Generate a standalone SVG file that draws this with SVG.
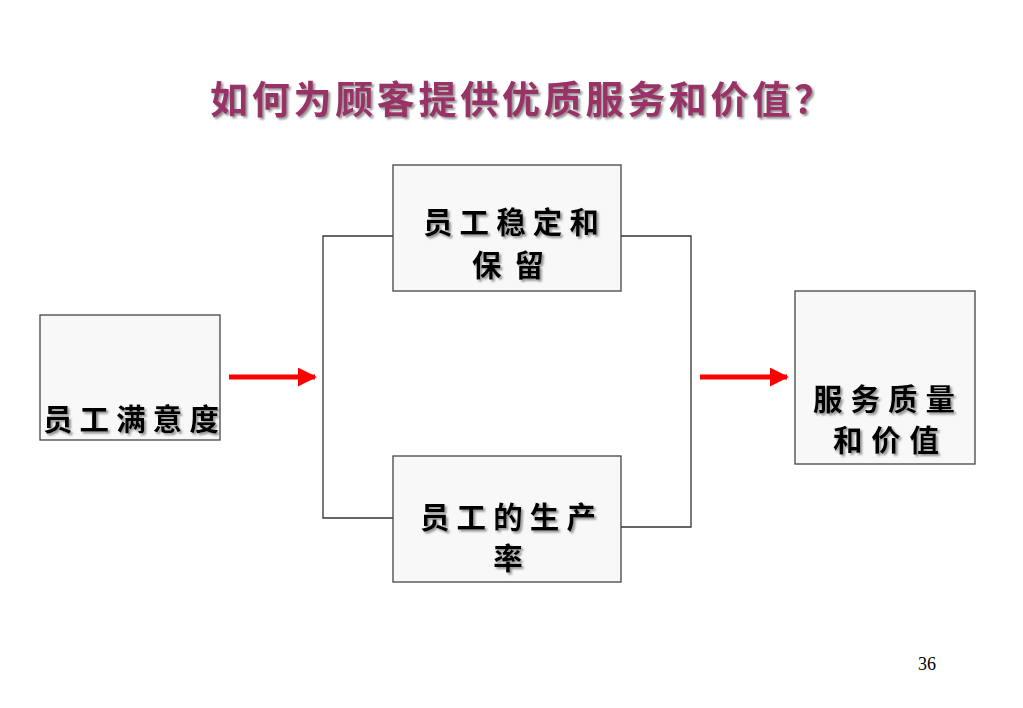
<svg xmlns="http://www.w3.org/2000/svg" width="1023" height="708" viewBox="0 0 1023 708">
<defs>
<filter id="sh" x="-10%" y="-30%" width="130%" height="160%">
<feDropShadow dx="2" dy="2" stdDeviation="1" flood-color="#777" flood-opacity="0.8"/>
</filter>
<marker id="ah" viewBox="0 0 10 10" refX="9" refY="5" markerWidth="3.8" markerHeight="3.8" orient="auto" markerUnits="strokeWidth">
<path d="M0,0 L10,5 L0,10 z" fill="#ff0000"/>
</marker>
<style>
.box{fill:#f8f8f8;stroke:#444;stroke-width:1.3}
.t{font-family:"Noto Sans CJK SC","Noto Sans CJK TC",sans-serif;font-weight:700;font-size:29.5px;fill:#000;filter:url(#sh)}
.ln{fill:none;stroke:#333;stroke-width:1.3}
.ar{stroke:#ff0000;stroke-width:5;fill:none;marker-end:url(#ah)}
</style>
</defs>
<rect width="1023" height="708" fill="#ffffff"/>
<text x="521" y="113" text-anchor="middle" font-family="Noto Sans CJK SC, sans-serif" font-weight="700" font-size="38" fill="#993366" filter="url(#sh)" textLength="622" lengthAdjust="spacing">如何为顾客提供优质服务和价值？</text>
<g id="connectors">
<polyline class="ln" points="393,236 323,236 323,518 393,518"/>
<polyline class="ln" points="621,236 691,236 691,527 621,527"/>
<line class="ar" x1="229" y1="377" x2="315" y2="377"/>
<line class="ar" x1="700" y1="377" x2="787" y2="377"/>
</g>
<g id="node-satisfaction">
<rect class="box" x="40" y="315" width="180" height="125"/>
<text class="t" x="131" y="430" text-anchor="middle" textLength="176" lengthAdjust="spacing">员工满意度</text>
</g>
<g id="node-retention">
<rect class="box" x="393" y="165" width="228" height="126"/>
<text class="t" x="511" y="233" text-anchor="middle" textLength="176" lengthAdjust="spacing">员工稳定和</text>
<text class="t" x="508" y="276" text-anchor="middle" textLength="72" lengthAdjust="spacing">保留</text>
</g>
<g id="node-productivity">
<rect class="box" x="393" y="456" width="228" height="126"/>
<text class="t" x="508" y="528" text-anchor="middle" textLength="176" lengthAdjust="spacing">员工的生产</text>
<text class="t" x="508" y="569" text-anchor="middle">率</text>
</g>
<g id="node-quality">
<rect class="box" x="795" y="291" width="180" height="173"/>
<text class="t" x="884" y="410" text-anchor="middle" textLength="142" lengthAdjust="spacing">服务质量</text>
<text class="t" x="886" y="451" text-anchor="middle" textLength="106" lengthAdjust="spacing">和价值</text>
</g>
<text x="927" y="670" text-anchor="middle" font-family="Liberation Serif, serif" font-size="18" fill="#000">36</text>
</svg>
